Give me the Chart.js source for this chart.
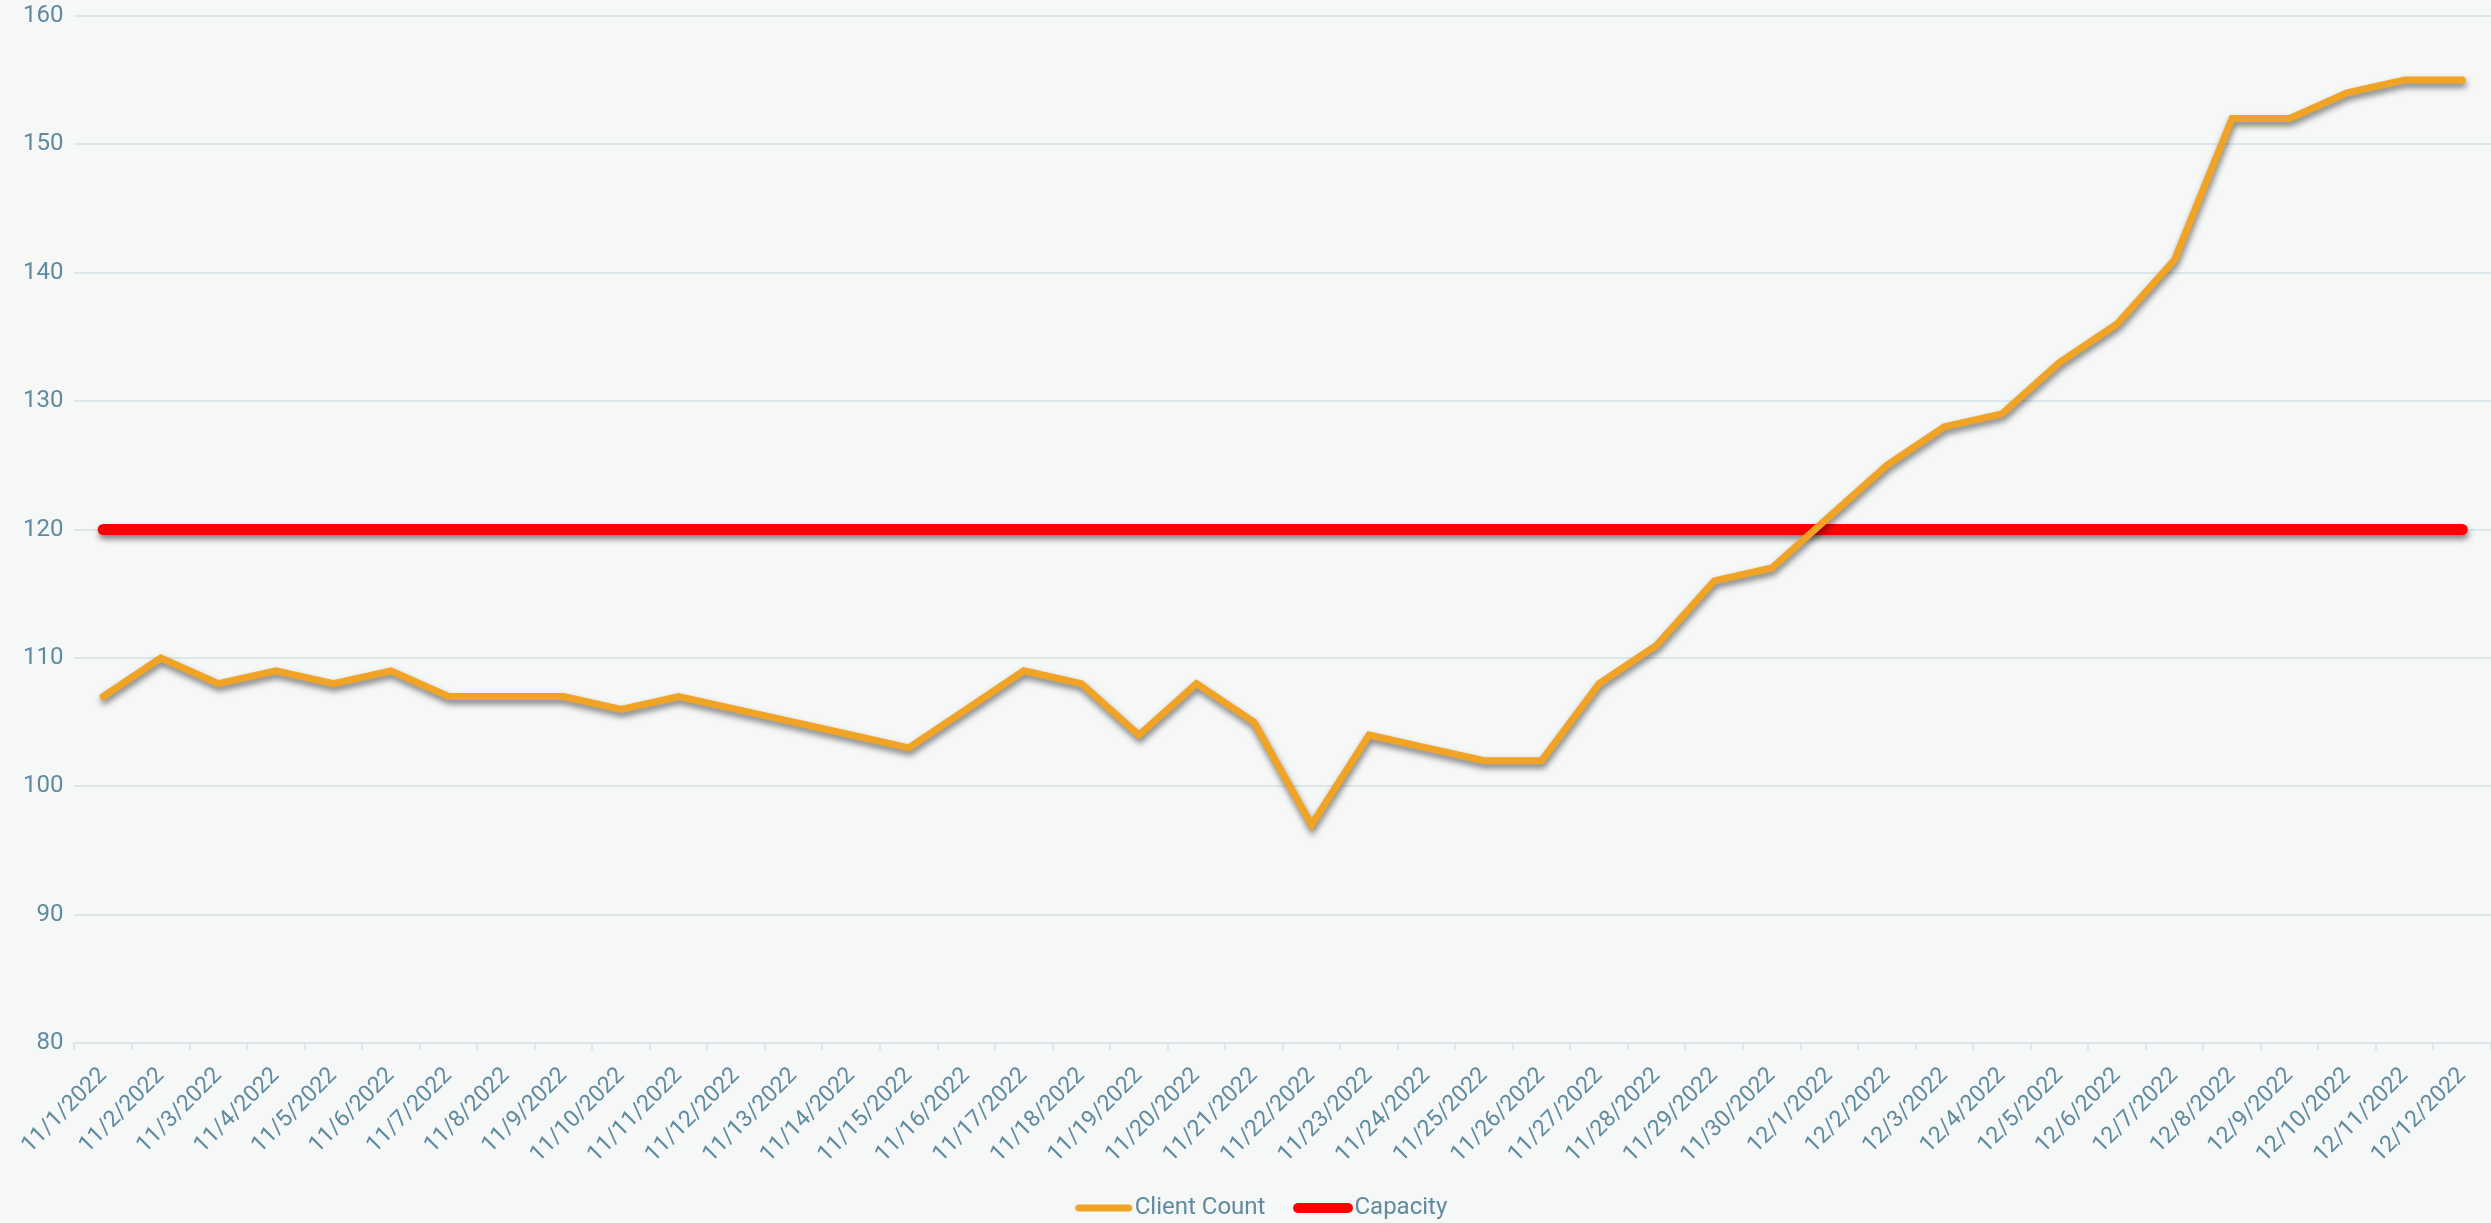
<!DOCTYPE html>
<html>
<head>
<meta charset="utf-8">
<script src="https://cdn.jsdelivr.net/npm/chart.js@4/dist/chart.umd.min.js"></script>
<style>
  html, body { margin: 0; padding: 0; background: #f6f8f8; }
  #wrap { width: 2491px; height: 1223px; position: relative; }
</style>
</head>
<body>
<div id="wrap"><canvas id="c"></canvas></div>
<script>
const dateLabels = [
  '11/1/2022','11/2/2022','11/3/2022','11/4/2022','11/5/2022','11/6/2022','11/7/2022',
  '11/8/2022','11/9/2022','11/10/2022','11/11/2022','11/12/2022','11/13/2022','11/14/2022',
  '11/15/2022','11/16/2022','11/17/2022','11/18/2022','11/19/2022','11/20/2022','11/21/2022',
  '11/22/2022','11/23/2022','11/24/2022','11/25/2022','11/26/2022','11/27/2022','11/28/2022',
  '11/29/2022','11/30/2022','12/1/2022','12/2/2022','12/3/2022','12/4/2022','12/5/2022',
  '12/6/2022','12/7/2022','12/8/2022','12/9/2022','12/10/2022','12/11/2022','12/12/2022'
];
const clientCount = [
  107,110,108,109,108,109,107,107,107,106,107,106,105,104,103,106,109,108,104,108,105,
  97,104,103,102,102,108,111,116,117,121,125,128,129,133,136,141,152,152,154,155,155
];
const capacity = [
  120,120,120,120,120,120,120,120,120,120,120,120,120,120,120,120,120,120,120,120,120,
  120,120,120,120,120,120,120,120,120,120,120,120,120,120,120,120,120,120,120,120,120
];
const yTicks = [80, 90, 100, 110, 120, 130, 140, 150, 160];

const tickColor = '#5f8a9f';
const gridColor = '#dde6eb';

const shadowPlugin = {
  id: 'lineShadow',
  beforeDatasetDraw(chart) {
    const ctx = chart.ctx;
    ctx.save();
    ctx.shadowColor = 'rgba(0,0,0,0.5)';
    ctx.shadowBlur = 6;
    ctx.shadowOffsetX = 1;
    ctx.shadowOffsetY = 4;
  },
  afterDatasetDraw(chart) {
    chart.ctx.restore();
  }
};

// legend marker: a rounded line drawn on the right part of a wider transparent canvas
function legendMarker(color, lw, imgW, x0, x1) {
  const c = document.createElement('canvas');
  c.width = imgW; c.height = 16;
  const g = c.getContext('2d');
  g.strokeStyle = color; g.lineWidth = lw; g.lineCap = 'round';
  g.beginPath(); g.moveTo(x0 + lw / 2, 8); g.lineTo(x1 - lw / 2, 8); g.stroke();
  return c;
}
const markers = [
  legendMarker('#f0a324', 7, 88, 30, 87),
  legendMarker('#ff0000', 10, 88, 28, 88)
];

new Chart(document.getElementById('c'), {
  type: 'line',
  data: {
    labels: dateLabels,
    datasets: [
      {
        label: 'Client Count',
        data: clientCount,
        borderColor: '#f0a324',
        backgroundColor: '#f0a324',
        borderWidth: 7,
        borderCapStyle: 'round',
        pointRadius: 0,
        pointHoverRadius: 0,
        tension: 0,
        fill: false
      },
      {
        label: 'Capacity',
        data: capacity,
        borderColor: '#ff0000',
        backgroundColor: '#ff0000',
        borderWidth: 11,
        borderCapStyle: 'round',
        pointRadius: 0,
        pointHoverRadius: 0,
        tension: 0,
        fill: false
      }
    ]
  },
  options: {
    responsive: true,
    maintainAspectRatio: false,
    animation: false,
    layout: { padding: { left: 12, right: 0, top: 0, bottom: -7 } },
    plugins: {
      tooltip: { enabled: false },
      legend: {
        position: 'bottom',
        labels: {
          color: tickColor,
          font: { family: 'Roboto', size: 24 },
          usePointStyle: true,
          pointStyleWidth: 67,
          boxHeight: 10,
          padding: 10,
          generateLabels(chart) {
            const items = Chart.defaults.plugins.legend.labels.generateLabels(chart);
            items.forEach((it, i) => { it.pointStyle = markers[i]; });
            return items;
          }
        }
      }
    },
    scales: {
      x: {
        offset: true,
        afterFit(axis) {
          axis.paddingLeft = 0;
          axis.paddingRight = 0;
          axis.height = 142.7;
        },
        grid: {
          offset: true,
          drawOnChartArea: false,
          drawTicks: true,
          tickLength: 7,
          color: gridColor,
          lineWidth: 2
        },
        border: { display: true, color: gridColor, width: 2 },
        ticks: {
          color: tickColor,
          font: { family: 'Roboto', size: 23 },
          autoSkip: false,
          maxRotation: 45,
          minRotation: 45,
          padding: 12
        }
      },
      y: {
        min: 80,
        max: 160,
        afterBuildTicks(axis) { axis.ticks = yTicks.map(v => ({ value: v })); },
        afterFit(axis) {
          axis.paddingTop = 15.7;
          axis.paddingBottom = 0;
        },
        grid: {
          color: gridColor,
          lineWidth: 2,
          drawTicks: false
        },
        border: { display: false },
        ticks: {
          color: tickColor,
          font: { family: 'Roboto', size: 24 },
          padding: 11
        }
      }
    }
  },
  plugins: [shadowPlugin]
});
</script>
</body>
</html>
